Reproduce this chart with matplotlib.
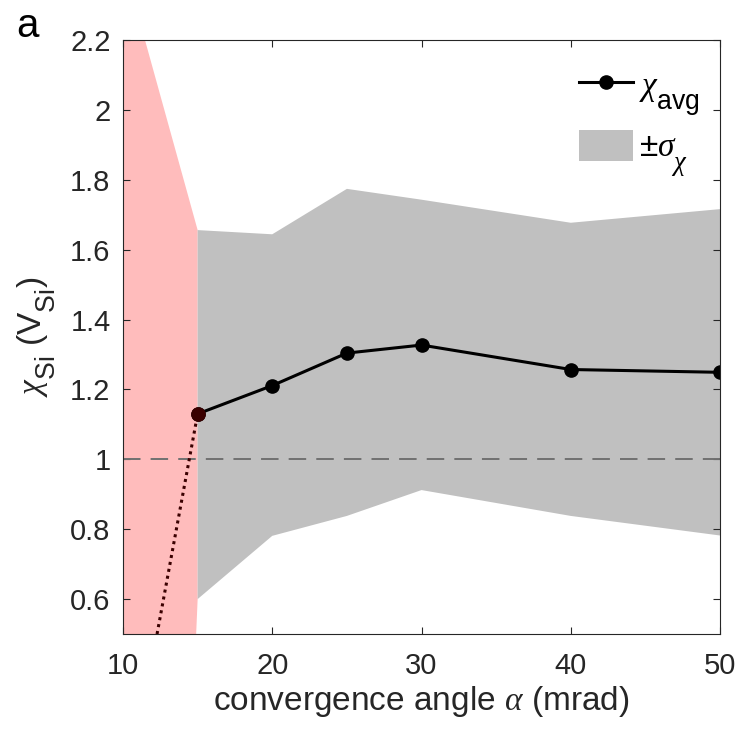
import matplotlib
matplotlib.use("Agg")
import matplotlib.pyplot as plt
import matplotlib._mathtext as _mt
from matplotlib.patches import Polygon

plt.rcParams['font.family'] = ['Liberation Sans', 'DejaVu Sans']
plt.rcParams['mathtext.fontset'] = 'custom'
plt.rcParams['mathtext.rm'] = 'Liberation Sans'
plt.rcParams['mathtext.sf'] = 'Liberation Sans'
plt.rcParams['mathtext.it'] = 'Liberation Serif:italic'
plt.rcParams['mathtext.bf'] = 'Liberation Sans:bold'
# larger, lower subscripts, TeX-interpreter style
_mt.SHRINK_FACTOR = 0.8
_mt.FontConstantsBase.sub1 = 0.9

# convergence angle (mrad)
alpha = [15, 20, 25, 30, 40, 50]
# average chi and its +/- sigma envelope
chi_avg = [1.130, 1.211, 1.304, 1.327, 1.257, 1.249]
chi_upper = [1.656, 1.644, 1.774, 1.743, 1.677, 1.716]
chi_lower = [0.600, 0.781, 0.838, 0.912, 0.838, 0.782]

# extrapolation below 15 mrad
alpha_extrap = [11.47, 15, 15, 14.9]
extrap_upper = [2.2, 1.656]
extrap_lower = [0.600, 0.500]
alpha_dotted = [12.28, 15]
chi_dotted = [0.500, 1.130]

text_col = '#262626'

fig = plt.figure(figsize=(7.38, 7.34), dpi=100)
ax = fig.add_axes([0.1667, 0.1362, 0.8089, 0.8093])

# red region: extrapolated band below the first measured angle
red_pts = [(10, 2.2), (alpha_extrap[0], extrap_upper[0]), (alpha_extrap[1], extrap_upper[1]),
           (alpha_extrap[2], extrap_lower[0]), (alpha_extrap[3], extrap_lower[1]), (10, 0.5)]
ax.add_patch(Polygon(red_pts, closed=True, facecolor='#ffbcbc', edgecolor='none', zorder=1))

# sigma band
band = ax.fill_between(alpha, chi_lower, chi_upper, facecolor='#c0c0c0', edgecolor='none',
                       zorder=1, label=r'$\pm\sigma_{\chi}$')

# reference level
ax.axhline(1.0, color='#707070', lw=1.4, dashes=(9, 5.2), zorder=2)

# mean curve
line, = ax.plot(alpha, chi_avg, color='black', lw=2.2, marker='o', ms=9.5, zorder=3,
                label=r'$\chi_{\mathrm{avg}}$')
ax.plot(alpha_dotted, chi_dotted, color='#3a0000', lw=2.2, ls=(0, (1, 1.3)), zorder=4)
ax.plot(alpha[0], chi_avg[0], 'o', color='#3a0000', ms=9.5, zorder=5)

ax.set_xlim(10, 50)
ax.set_ylim(0.5, 2.2)
ax.set_xticks([10, 20, 30, 40, 50])
ax.set_yticks([0.6, 0.8, 1.0, 1.2, 1.4, 1.6, 1.8, 2.0, 2.2])
ax.set_yticklabels(['0.6', '0.8', '1', '1.2', '1.4', '1.6', '1.8', '2', '2.2'])
ax.tick_params(direction='in', length=5, width=0.8, top=True, right=True,
               labelsize=21, colors=text_col)
ax.tick_params(axis='x', pad=13)
ax.tick_params(axis='y', pad=9)
for sp in ax.spines.values():
    sp.set_color(text_col)
    sp.set_linewidth(0.8)
    sp.set_zorder(6)

ax.set_xlabel(r'convergence angle $\alpha$ (mrad)', fontsize=24, color=text_col, labelpad=3)
ax.set_ylabel(r'$\chi_{\mathrm{Si}}$ (V$_{\mathrm{Si}}$)', fontsize=24, color=text_col, labelpad=9)

leg = ax.legend(handles=[line, band], loc='upper right', frameon=False, fontsize=24,
                handlelength=1.6, handleheight=1.05, handletextpad=0.2, labelspacing=0.35,
                borderaxespad=0.2, bbox_to_anchor=(1.0, 0.985))
for t in leg.get_texts():
    t.set_color('black')

fig.text(0.022, 0.99, 'a', fontsize=29, color='black', ha='left', va='top')

fig.savefig('out.png', dpi=100)
